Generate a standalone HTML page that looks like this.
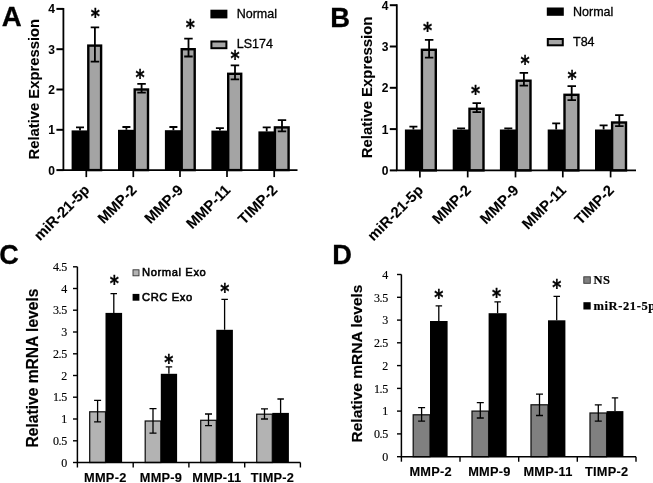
<!DOCTYPE html>
<html lang="en">
<head>
<meta charset="utf-8">
<title>Figure</title>
<style>
html,body{margin:0;padding:0;background:#fff;}
body{width:653px;height:483px;overflow:hidden;}
svg{display:block;filter:blur(0.45px);}
text{fill:#000;stroke:#000;stroke-width:0.3px;}
</style>
</head>
<body>
<svg width="653" height="483" viewBox="0 0 653 483">
<rect width="653" height="483" fill="#fff"/>
<text x="1.8" y="26.2" font-family='"Liberation Sans", Arial, Helvetica, sans-serif' font-size="27.6" font-weight="bold">A</text>
<text transform="translate(39.4,89.2) rotate(-90)" font-family='"Liberation Sans", Arial, Helvetica, sans-serif' font-size="14.8" font-weight="bold" text-anchor="middle" style="stroke-width:0.1px">Relative Expression</text>
<path d="M80.0 127.4V130.4M76.0 127.4H84.0" stroke="#000" stroke-width="1.8" fill="none"/>
<rect x="71.6" y="130.4" width="16.8" height="39.7" fill="#000"/>
<rect x="88.3" y="45.6" width="12.8" height="124.5" fill="#a4a4a4" stroke="#000" stroke-width="2.4"/>
<path d="M94.9 27.4V61.7M90.7 27.4H99.2M90.7 61.7H99.2" stroke="#000" stroke-width="1.8" fill="none"/>
<path d="M86.3 170.1V177.1" stroke="#000" stroke-width="1.7"/>
<text transform="translate(90.5,190.9) rotate(-45)" font-family='"Liberation Sans", Arial, Helvetica, sans-serif' font-size="14.8" font-weight="bold" text-anchor="end" style="stroke-width:0.1px">miR-21-5p</text>
<text transform="translate(95.2,12.7) scale(0.92,1.12)" x="0" y="10.07" font-family='"DejaVu Sans", "Liberation Sans", sans-serif' font-size="19" font-weight="bold" text-anchor="middle">*</text>
<path d="M126.4 127.0V129.8M122.4 127.0H130.4" stroke="#000" stroke-width="1.8" fill="none"/>
<rect x="118.0" y="129.8" width="16.8" height="40.3" fill="#000"/>
<rect x="134.7" y="89.5" width="13.3" height="80.6" fill="#a4a4a4" stroke="#000" stroke-width="2.4"/>
<path d="M141.6 83.9V92.7M137.3 83.9H145.8M137.3 92.7H145.8" stroke="#000" stroke-width="1.8" fill="none"/>
<path d="M133.3 170.1V177.1" stroke="#000" stroke-width="1.7"/>
<text transform="translate(137.5,190.9) rotate(-45)" font-family='"Liberation Sans", Arial, Helvetica, sans-serif' font-size="14.8" font-weight="bold" text-anchor="end" style="stroke-width:0.1px">MMP-2</text>
<text transform="translate(140.0,74.0) scale(0.92,1.12)" x="0" y="10.07" font-family='"DejaVu Sans", "Liberation Sans", sans-serif' font-size="19" font-weight="bold" text-anchor="middle">*</text>
<path d="M173.4 127.0V130.2M169.4 127.0H177.4" stroke="#000" stroke-width="1.8" fill="none"/>
<rect x="164.9" y="130.2" width="16.9" height="39.9" fill="#000"/>
<rect x="181.7" y="49.2" width="13.0" height="120.9" fill="#a4a4a4" stroke="#000" stroke-width="2.4"/>
<path d="M188.5 38.7V56.5M184.2 38.7H192.7M184.2 56.5H192.7" stroke="#000" stroke-width="1.8" fill="none"/>
<path d="M180.0 170.1V177.1" stroke="#000" stroke-width="1.7"/>
<text transform="translate(184.2,190.9) rotate(-45)" font-family='"Liberation Sans", Arial, Helvetica, sans-serif' font-size="14.8" font-weight="bold" text-anchor="end" style="stroke-width:0.1px">MMP-9</text>
<text transform="translate(190.2,23.5) scale(0.92,1.12)" x="0" y="10.07" font-family='"DejaVu Sans", "Liberation Sans", sans-serif' font-size="19" font-weight="bold" text-anchor="middle">*</text>
<path d="M219.9 128.2V130.6M215.9 128.2H223.9" stroke="#000" stroke-width="1.8" fill="none"/>
<rect x="211.4" y="130.6" width="16.9" height="39.5" fill="#000"/>
<rect x="228.2" y="73.8" width="13.0" height="96.3" fill="#a4a4a4" stroke="#000" stroke-width="2.4"/>
<path d="M235.0 65.3V79.4M230.7 65.3H239.2M230.7 79.4H239.2" stroke="#000" stroke-width="1.8" fill="none"/>
<path d="M227.0 170.1V177.1" stroke="#000" stroke-width="1.7"/>
<text transform="translate(231.2,190.9) rotate(-45)" font-family='"Liberation Sans", Arial, Helvetica, sans-serif' font-size="14.8" font-weight="bold" text-anchor="end" style="stroke-width:0.1px">MMP-11</text>
<text transform="translate(235.0,55.0) scale(0.92,1.12)" x="0" y="10.07" font-family='"DejaVu Sans", "Liberation Sans", sans-serif' font-size="19" font-weight="bold" text-anchor="middle">*</text>
<path d="M266.7 127.4V131.4M262.7 127.4H270.7" stroke="#000" stroke-width="1.8" fill="none"/>
<rect x="258.4" y="131.4" width="16.6" height="38.7" fill="#000"/>
<rect x="274.9" y="127.4" width="13.7" height="42.7" fill="#a4a4a4" stroke="#000" stroke-width="2.4"/>
<path d="M282.0 120.1V131.4M277.8 120.1H286.2M277.8 131.4H286.2" stroke="#000" stroke-width="1.8" fill="none"/>
<path d="M274.2 170.1V177.1" stroke="#000" stroke-width="1.7"/>
<text transform="translate(278.4,190.9) rotate(-45)" font-family='"Liberation Sans", Arial, Helvetica, sans-serif' font-size="14.8" font-weight="bold" text-anchor="end" style="stroke-width:0.1px">TIMP-2</text>
<path d="M63.4 7.9V170.1H297.5" stroke="#000" stroke-width="1.8" fill="none"/>
<path d="M56.4 170.1H63.4" stroke="#000" stroke-width="2"/>
<text x="55" y="174.6" font-family='"Liberation Sans", Arial, Helvetica, sans-serif' font-size="12" font-weight="bold" text-anchor="end" style="stroke-width:0.05px">0</text>
<path d="M56.4 129.8H63.4" stroke="#000" stroke-width="2"/>
<text x="55" y="134.3" font-family='"Liberation Sans", Arial, Helvetica, sans-serif' font-size="12" font-weight="bold" text-anchor="end" style="stroke-width:0.05px">1</text>
<path d="M56.4 89.5H63.4" stroke="#000" stroke-width="2"/>
<text x="55" y="94.0" font-family='"Liberation Sans", Arial, Helvetica, sans-serif' font-size="12" font-weight="bold" text-anchor="end" style="stroke-width:0.05px">2</text>
<path d="M56.4 49.2H63.4" stroke="#000" stroke-width="2"/>
<text x="55" y="53.7" font-family='"Liberation Sans", Arial, Helvetica, sans-serif' font-size="12" font-weight="bold" text-anchor="end" style="stroke-width:0.05px">3</text>
<path d="M56.4 8.9H63.4" stroke="#000" stroke-width="2"/>
<text x="55" y="13.4" font-family='"Liberation Sans", Arial, Helvetica, sans-serif' font-size="12" font-weight="bold" text-anchor="end" style="stroke-width:0.05px">4</text>
<rect x="210.4" y="9.7" width="17" height="8.7" fill="#000"/>
<text x="236.7" y="17.6" font-family='"Liberation Sans", Arial, Helvetica, sans-serif' font-size="12.5">Normal</text>
<rect x="211.4" y="41.5" width="15" height="6.699999999999999" fill="#a6a6a6" stroke="#000" stroke-width="2"/>
<text x="236.7" y="48.0" font-family='"Liberation Sans", Arial, Helvetica, sans-serif' font-size="12.5">LS174</text>
<text x="330.2" y="26.5" font-family='"Liberation Sans", Arial, Helvetica, sans-serif' font-size="27.4" font-weight="bold">B</text>
<text transform="translate(372.4,87.4) rotate(-90)" font-family='"Liberation Sans", Arial, Helvetica, sans-serif' font-size="14.9" font-weight="bold" text-anchor="middle" style="stroke-width:0.1px">Relative Expression</text>
<path d="M413.4 126.6V129.5M409.4 126.6H417.4" stroke="#000" stroke-width="1.8" fill="none"/>
<rect x="404.9" y="129.5" width="17.1" height="40.9" fill="#000"/>
<rect x="421.9" y="49.8" width="13.9" height="120.6" fill="#a4a4a4" stroke="#000" stroke-width="2.4"/>
<path d="M429.1 39.9V57.7M424.9 39.9H433.4M424.9 57.7H433.4" stroke="#000" stroke-width="1.8" fill="none"/>
<path d="M419.9 170.4V177.4" stroke="#000" stroke-width="1.7"/>
<text transform="translate(424.1,191.2) rotate(-45)" font-family='"Liberation Sans", Arial, Helvetica, sans-serif' font-size="14.8" font-weight="bold" text-anchor="end" style="stroke-width:0.1px">miR-21-5p</text>
<text transform="translate(427.5,27.0) scale(0.92,1.12)" x="0" y="10.07" font-family='"DejaVu Sans", "Liberation Sans", sans-serif' font-size="19" font-weight="bold" text-anchor="middle">*</text>
<path d="M461.1 128.3V129.5M457.1 128.3H465.1" stroke="#000" stroke-width="1.8" fill="none"/>
<rect x="452.7" y="129.5" width="16.9" height="40.9" fill="#000"/>
<rect x="469.5" y="108.8" width="14.0" height="61.6" fill="#a4a4a4" stroke="#000" stroke-width="2.4"/>
<path d="M476.8 103.1V112.2M472.5 103.1H481.0M472.5 112.2H481.0" stroke="#000" stroke-width="1.8" fill="none"/>
<path d="M467.7 170.4V177.4" stroke="#000" stroke-width="1.7"/>
<text transform="translate(471.9,191.2) rotate(-45)" font-family='"Liberation Sans", Arial, Helvetica, sans-serif' font-size="14.8" font-weight="bold" text-anchor="end" style="stroke-width:0.1px">MMP-2</text>
<text transform="translate(475.5,90.0) scale(0.92,1.12)" x="0" y="10.07" font-family='"DejaVu Sans", "Liberation Sans", sans-serif' font-size="19" font-weight="bold" text-anchor="middle">*</text>
<path d="M508.3 128.3V129.5M504.3 128.3H512.3" stroke="#000" stroke-width="1.8" fill="none"/>
<rect x="499.9" y="129.5" width="16.9" height="40.9" fill="#000"/>
<rect x="516.7" y="80.7" width="13.8" height="89.7" fill="#a4a4a4" stroke="#000" stroke-width="2.4"/>
<path d="M523.9 72.9V85.7M519.6 72.9H528.1M519.6 85.7H528.1" stroke="#000" stroke-width="1.8" fill="none"/>
<path d="M515.5 170.4V177.4" stroke="#000" stroke-width="1.7"/>
<text transform="translate(519.7,191.2) rotate(-45)" font-family='"Liberation Sans", Arial, Helvetica, sans-serif' font-size="14.8" font-weight="bold" text-anchor="end" style="stroke-width:0.1px">MMP-9</text>
<text transform="translate(525.0,60.0) scale(0.92,1.12)" x="0" y="10.07" font-family='"DejaVu Sans", "Liberation Sans", sans-serif' font-size="19" font-weight="bold" text-anchor="middle">*</text>
<path d="M556.2 123.3V129.5M552.2 123.3H560.2" stroke="#000" stroke-width="1.8" fill="none"/>
<rect x="547.7" y="129.5" width="16.9" height="40.9" fill="#000"/>
<rect x="564.5" y="94.8" width="13.9" height="75.6" fill="#a4a4a4" stroke="#000" stroke-width="2.4"/>
<path d="M571.7 86.1V100.2M567.5 86.1H576.0M567.5 100.2H576.0" stroke="#000" stroke-width="1.8" fill="none"/>
<path d="M562.8 170.4V177.4" stroke="#000" stroke-width="1.7"/>
<text transform="translate(567.0,191.2) rotate(-45)" font-family='"Liberation Sans", Arial, Helvetica, sans-serif' font-size="14.8" font-weight="bold" text-anchor="end" style="stroke-width:0.1px">MMP-11</text>
<text transform="translate(572.0,75.0) scale(0.92,1.12)" x="0" y="10.07" font-family='"DejaVu Sans", "Liberation Sans", sans-serif' font-size="19" font-weight="bold" text-anchor="middle">*</text>
<path d="M603.6 125.4V129.5M599.6 125.4H607.6" stroke="#000" stroke-width="1.8" fill="none"/>
<rect x="595.0" y="129.5" width="17.2" height="40.9" fill="#000"/>
<rect x="612.1" y="122.5" width="13.9" height="47.9" fill="#a4a4a4" stroke="#000" stroke-width="2.4"/>
<path d="M619.3 115.1V126.2M615.1 115.1H623.6M615.1 126.2H623.6" stroke="#000" stroke-width="1.8" fill="none"/>
<path d="M610.6 170.4V177.4" stroke="#000" stroke-width="1.7"/>
<text transform="translate(614.8,191.2) rotate(-45)" font-family='"Liberation Sans", Arial, Helvetica, sans-serif' font-size="14.8" font-weight="bold" text-anchor="end" style="stroke-width:0.1px">TIMP-2</text>
<path d="M396.8 4.2V170.4H636" stroke="#000" stroke-width="1.8" fill="none"/>
<path d="M389.8 170.4H396.8" stroke="#000" stroke-width="2"/>
<text x="388.5" y="174.9" font-family='"Liberation Sans", Arial, Helvetica, sans-serif' font-size="12" font-weight="bold" text-anchor="end" style="stroke-width:0.05px">0</text>
<path d="M389.8 129.1H396.8" stroke="#000" stroke-width="2"/>
<text x="388.5" y="133.6" font-family='"Liberation Sans", Arial, Helvetica, sans-serif' font-size="12" font-weight="bold" text-anchor="end" style="stroke-width:0.05px">1</text>
<path d="M389.8 87.8H396.8" stroke="#000" stroke-width="2"/>
<text x="388.5" y="92.3" font-family='"Liberation Sans", Arial, Helvetica, sans-serif' font-size="12" font-weight="bold" text-anchor="end" style="stroke-width:0.05px">2</text>
<path d="M389.8 46.5H396.8" stroke="#000" stroke-width="2"/>
<text x="388.5" y="51.0" font-family='"Liberation Sans", Arial, Helvetica, sans-serif' font-size="12" font-weight="bold" text-anchor="end" style="stroke-width:0.05px">3</text>
<path d="M389.8 5.2H396.8" stroke="#000" stroke-width="2"/>
<text x="388.5" y="9.7" font-family='"Liberation Sans", Arial, Helvetica, sans-serif' font-size="12" font-weight="bold" text-anchor="end" style="stroke-width:0.05px">4</text>
<rect x="546.8" y="7.5" width="17" height="8.3" fill="#000"/>
<text x="573" y="15.9" font-family='"Liberation Sans", Arial, Helvetica, sans-serif' font-size="12.5">Normal</text>
<rect x="547.8" y="39" width="15" height="6.300000000000001" fill="#a6a6a6" stroke="#000" stroke-width="2"/>
<text x="573" y="46.0" font-family='"Liberation Sans", Arial, Helvetica, sans-serif' font-size="12.5">T84</text>
<text x="-0.7" y="264.2" font-family='"Liberation Sans", Arial, Helvetica, sans-serif' font-size="27" font-weight="bold">C</text>
<text transform="translate(38.4,368) rotate(-90)" font-family='"Liberation Sans", Arial, Helvetica, sans-serif' font-size="15.6" font-weight="bold" text-anchor="middle" style="stroke-width:0.15px">Relative mRNA levels</text>
<rect x="89.7" y="411.8" width="15.8" height="50.7" fill="#b3b3b3" stroke="#111" stroke-width="1.25"/>
<path d="M97.6 400.3V421.8M94.1 400.3H101.1M94.1 421.8H101.1" stroke="#000" stroke-width="1.3" fill="none"/>
<rect x="105.5" y="312.9" width="16.6" height="149.6" fill="#000"/>
<path d="M113.8 293.7V312.9M110.5 293.7H117.0" stroke="#000" stroke-width="1.3" fill="none"/>
<text transform="translate(114.3,280.2) scale(0.92,1.12)" x="0" y="10.07" font-family='"DejaVu Sans", "Liberation Sans", sans-serif' font-size="19" font-weight="bold" text-anchor="middle">*</text>
<rect x="145.2" y="421.0" width="15.6" height="41.5" fill="#b3b3b3" stroke="#111" stroke-width="1.25"/>
<path d="M153.0 408.6V433.1M149.5 408.6H156.5M149.5 433.1H156.5" stroke="#000" stroke-width="1.3" fill="none"/>
<rect x="160.8" y="373.8" width="16.3" height="88.7" fill="#000"/>
<path d="M168.9 366.8V373.8M165.7 366.8H172.2" stroke="#000" stroke-width="1.3" fill="none"/>
<text transform="translate(168.8,358.8) scale(0.92,1.12)" x="0" y="10.07" font-family='"DejaVu Sans", "Liberation Sans", sans-serif' font-size="19" font-weight="bold" text-anchor="middle">*</text>
<rect x="200.7" y="420.3" width="15.6" height="42.2" fill="#b3b3b3" stroke="#111" stroke-width="1.25"/>
<path d="M208.5 414.0V425.7M205.0 414.0H212.0M205.0 425.7H212.0" stroke="#000" stroke-width="1.3" fill="none"/>
<rect x="216.3" y="329.8" width="16.6" height="132.7" fill="#000"/>
<path d="M224.6 299.4V329.8M221.4 299.4H227.9" stroke="#000" stroke-width="1.3" fill="none"/>
<text transform="translate(224.8,288.0) scale(0.92,1.12)" x="0" y="10.07" font-family='"DejaVu Sans", "Liberation Sans", sans-serif' font-size="19" font-weight="bold" text-anchor="middle">*</text>
<rect x="256.7" y="414.2" width="15.6" height="48.3" fill="#b3b3b3" stroke="#111" stroke-width="1.25"/>
<path d="M264.5 408.8V419.0M261.0 408.8H268.0M261.0 419.0H268.0" stroke="#000" stroke-width="1.3" fill="none"/>
<rect x="272.3" y="412.9" width="16.6" height="49.6" fill="#000"/>
<path d="M280.6 399.0V412.9M277.4 399.0H283.9" stroke="#000" stroke-width="1.3" fill="none"/>
<path d="M77.4 266.8V462.5H300.4" stroke="#000" stroke-width="1.5" fill="none"/>
<path d="M73.0 462.5H77.4" stroke="#000" stroke-width="1.4"/>
<text x="67" y="466.7" font-family='"Liberation Serif", "Times New Roman", Times, serif' font-size="12" letter-spacing="-0.3" text-anchor="end" style="stroke-width:0.15px">0</text>
<path d="M73.0 440.8H77.4" stroke="#000" stroke-width="1.4"/>
<text x="67" y="444.9" font-family='"Liberation Serif", "Times New Roman", Times, serif' font-size="12" letter-spacing="-0.3" text-anchor="end" style="stroke-width:0.15px">0.5</text>
<path d="M73.0 419.0H77.4" stroke="#000" stroke-width="1.4"/>
<text x="67" y="423.2" font-family='"Liberation Serif", "Times New Roman", Times, serif' font-size="12" letter-spacing="-0.3" text-anchor="end" style="stroke-width:0.15px">1</text>
<path d="M73.0 397.2H77.4" stroke="#000" stroke-width="1.4"/>
<text x="67" y="401.4" font-family='"Liberation Serif", "Times New Roman", Times, serif' font-size="12" letter-spacing="-0.3" text-anchor="end" style="stroke-width:0.15px">1.5</text>
<path d="M73.0 375.5H77.4" stroke="#000" stroke-width="1.4"/>
<text x="67" y="379.7" font-family='"Liberation Serif", "Times New Roman", Times, serif' font-size="12" letter-spacing="-0.3" text-anchor="end" style="stroke-width:0.15px">2</text>
<path d="M73.0 353.8H77.4" stroke="#000" stroke-width="1.4"/>
<text x="67" y="357.9" font-family='"Liberation Serif", "Times New Roman", Times, serif' font-size="12" letter-spacing="-0.3" text-anchor="end" style="stroke-width:0.15px">2.5</text>
<path d="M73.0 332.0H77.4" stroke="#000" stroke-width="1.4"/>
<text x="67" y="336.2" font-family='"Liberation Serif", "Times New Roman", Times, serif' font-size="12" letter-spacing="-0.3" text-anchor="end" style="stroke-width:0.15px">3</text>
<path d="M73.0 310.2H77.4" stroke="#000" stroke-width="1.4"/>
<text x="67" y="314.4" font-family='"Liberation Serif", "Times New Roman", Times, serif' font-size="12" letter-spacing="-0.3" text-anchor="end" style="stroke-width:0.15px">3.5</text>
<path d="M73.0 288.5H77.4" stroke="#000" stroke-width="1.4"/>
<text x="67" y="292.7" font-family='"Liberation Serif", "Times New Roman", Times, serif' font-size="12" letter-spacing="-0.3" text-anchor="end" style="stroke-width:0.15px">4</text>
<path d="M73.0 266.8H77.4" stroke="#000" stroke-width="1.4"/>
<text x="67" y="270.9" font-family='"Liberation Serif", "Times New Roman", Times, serif' font-size="12" letter-spacing="-0.3" text-anchor="end" style="stroke-width:0.15px">4.5</text>
<path d="M77.4 462.5V467.5" stroke="#000" stroke-width="1.4"/>
<path d="M133.2 462.5V467.5" stroke="#000" stroke-width="1.4"/>
<path d="M188.9 462.5V467.5" stroke="#000" stroke-width="1.4"/>
<path d="M244.7 462.5V467.5" stroke="#000" stroke-width="1.4"/>
<path d="M300.4 462.5V467.5" stroke="#000" stroke-width="1.4"/>
<text x="105.3" y="481.7" font-family='"Liberation Sans", Arial, Helvetica, sans-serif' font-size="12.8" font-weight="bold" text-anchor="middle" letter-spacing="0.25" style="stroke-width:0.12px">MMP-2</text>
<text x="161.0" y="481.7" font-family='"Liberation Sans", Arial, Helvetica, sans-serif' font-size="12.8" font-weight="bold" text-anchor="middle" letter-spacing="0.25" style="stroke-width:0.12px">MMP-9</text>
<text x="216.8" y="481.7" font-family='"Liberation Sans", Arial, Helvetica, sans-serif' font-size="12.8" font-weight="bold" text-anchor="middle" letter-spacing="0.25" style="stroke-width:0.12px">MMP-11</text>
<text x="272.5" y="481.7" font-family='"Liberation Sans", Arial, Helvetica, sans-serif' font-size="12.8" font-weight="bold" text-anchor="middle" letter-spacing="0.25" style="stroke-width:0.12px">TIMP-2</text>
<rect x="133" y="269.8" width="6" height="6" fill="#b3b3b3" stroke="#333" stroke-width="0.9"/>
<text x="142" y="275.7" font-family='"Liberation Sans", Arial, Helvetica, sans-serif' font-size="11.2" font-weight="normal" letter-spacing="0.6" style="stroke-width:0.55px">Normal Exo</text>
<rect x="132.6" y="293.9" width="6.8" height="6.8" fill="#000"/>
<text x="142" y="300.6" font-family='"Liberation Sans", Arial, Helvetica, sans-serif' font-size="11.2" font-weight="normal" letter-spacing="0.6" style="stroke-width:0.55px">CRC Exo</text>
<text x="332.3" y="264.2" font-family='"Liberation Sans", Arial, Helvetica, sans-serif' font-size="27.2" font-weight="bold">D</text>
<text transform="translate(362.2,363.5) rotate(-90)" font-family='"Liberation Sans", Arial, Helvetica, sans-serif' font-size="15.5" font-weight="bold" text-anchor="middle" style="stroke-width:0.15px">Relative mRNA levels</text>
<rect x="413.2" y="414.8" width="16.8" height="41.9" fill="#808080" stroke="#111" stroke-width="1.25"/>
<path d="M421.6 407.7V421.2M418.1 407.7H425.1M418.1 421.2H425.1" stroke="#000" stroke-width="1.3" fill="none"/>
<rect x="430.0" y="321.0" width="17.6" height="135.7" fill="#000"/>
<path d="M438.8 305.9V321.0M435.6 305.9H442.1" stroke="#000" stroke-width="1.3" fill="none"/>
<text transform="translate(438.8,294.0) scale(0.92,1.12)" x="0" y="10.07" font-family='"DejaVu Sans", "Liberation Sans", sans-serif' font-size="19" font-weight="bold" text-anchor="middle">*</text>
<rect x="472.0" y="411.1" width="16.6" height="45.6" fill="#808080" stroke="#111" stroke-width="1.25"/>
<path d="M480.3 402.7V418.0M476.8 402.7H483.8M476.8 418.0H483.8" stroke="#000" stroke-width="1.3" fill="none"/>
<rect x="488.6" y="313.2" width="18.0" height="143.5" fill="#000"/>
<path d="M497.6 301.8V313.2M494.4 301.8H500.9" stroke="#000" stroke-width="1.3" fill="none"/>
<text transform="translate(496.5,292.3) scale(0.92,1.12)" x="0" y="10.07" font-family='"DejaVu Sans", "Liberation Sans", sans-serif' font-size="19" font-weight="bold" text-anchor="middle">*</text>
<rect x="531.0" y="404.8" width="17.0" height="51.9" fill="#808080" stroke="#111" stroke-width="1.25"/>
<path d="M539.5 394.1V415.5M536.0 394.1H543.0M536.0 415.5H543.0" stroke="#000" stroke-width="1.3" fill="none"/>
<rect x="548.0" y="320.3" width="17.4" height="136.4" fill="#000"/>
<path d="M556.7 296.4V320.3M553.5 296.4H560.0" stroke="#000" stroke-width="1.3" fill="none"/>
<text transform="translate(556.8,283.4) scale(0.92,1.12)" x="0" y="10.07" font-family='"DejaVu Sans", "Liberation Sans", sans-serif' font-size="19" font-weight="bold" text-anchor="middle">*</text>
<rect x="590.0" y="413.0" width="16.6" height="43.7" fill="#808080" stroke="#111" stroke-width="1.25"/>
<path d="M598.3 404.8V421.2M594.8 404.8H601.8M594.8 421.2H601.8" stroke="#000" stroke-width="1.3" fill="none"/>
<rect x="606.6" y="411.1" width="16.8" height="45.6" fill="#000"/>
<path d="M615.0 397.9V411.1M611.8 397.9H618.2" stroke="#000" stroke-width="1.3" fill="none"/>
<path d="M401.4 274.5V456.7H636.0" stroke="#000" stroke-width="1.5" fill="none"/>
<path d="M397.0 456.7H401.4" stroke="#000" stroke-width="1.4"/>
<text x="388" y="460.9" font-family='"Liberation Serif", "Times New Roman", Times, serif' font-size="12" letter-spacing="-0.3" text-anchor="end" style="stroke-width:0.15px">0</text>
<path d="M397.0 433.9H401.4" stroke="#000" stroke-width="1.4"/>
<text x="388" y="438.1" font-family='"Liberation Serif", "Times New Roman", Times, serif' font-size="12" letter-spacing="-0.3" text-anchor="end" style="stroke-width:0.15px">0.5</text>
<path d="M397.0 411.1H401.4" stroke="#000" stroke-width="1.4"/>
<text x="388" y="415.3" font-family='"Liberation Serif", "Times New Roman", Times, serif' font-size="12" letter-spacing="-0.3" text-anchor="end" style="stroke-width:0.15px">1</text>
<path d="M397.0 388.4H401.4" stroke="#000" stroke-width="1.4"/>
<text x="388" y="392.6" font-family='"Liberation Serif", "Times New Roman", Times, serif' font-size="12" letter-spacing="-0.3" text-anchor="end" style="stroke-width:0.15px">1.5</text>
<path d="M397.0 365.6H401.4" stroke="#000" stroke-width="1.4"/>
<text x="388" y="369.8" font-family='"Liberation Serif", "Times New Roman", Times, serif' font-size="12" letter-spacing="-0.3" text-anchor="end" style="stroke-width:0.15px">2</text>
<path d="M397.0 342.8H401.4" stroke="#000" stroke-width="1.4"/>
<text x="388" y="347.0" font-family='"Liberation Serif", "Times New Roman", Times, serif' font-size="12" letter-spacing="-0.3" text-anchor="end" style="stroke-width:0.15px">2.5</text>
<path d="M397.0 320.1H401.4" stroke="#000" stroke-width="1.4"/>
<text x="388" y="324.2" font-family='"Liberation Serif", "Times New Roman", Times, serif' font-size="12" letter-spacing="-0.3" text-anchor="end" style="stroke-width:0.15px">3</text>
<path d="M397.0 297.3H401.4" stroke="#000" stroke-width="1.4"/>
<text x="388" y="301.5" font-family='"Liberation Serif", "Times New Roman", Times, serif' font-size="12" letter-spacing="-0.3" text-anchor="end" style="stroke-width:0.15px">3.5</text>
<path d="M397.0 274.5H401.4" stroke="#000" stroke-width="1.4"/>
<text x="388" y="278.7" font-family='"Liberation Serif", "Times New Roman", Times, serif' font-size="12" letter-spacing="-0.3" text-anchor="end" style="stroke-width:0.15px">4</text>
<path d="M401.4 456.7V461.7" stroke="#000" stroke-width="1.4"/>
<path d="M460.0 456.7V461.7" stroke="#000" stroke-width="1.4"/>
<path d="M518.7 456.7V461.7" stroke="#000" stroke-width="1.4"/>
<path d="M577.3 456.7V461.7" stroke="#000" stroke-width="1.4"/>
<path d="M636.0 456.7V461.7" stroke="#000" stroke-width="1.4"/>
<text x="430.7" y="476.2" font-family='"Liberation Sans", Arial, Helvetica, sans-serif' font-size="12.8" font-weight="bold" text-anchor="middle" letter-spacing="0.25" style="stroke-width:0.12px">MMP-2</text>
<text x="489.4" y="476.2" font-family='"Liberation Sans", Arial, Helvetica, sans-serif' font-size="12.8" font-weight="bold" text-anchor="middle" letter-spacing="0.25" style="stroke-width:0.12px">MMP-9</text>
<text x="548.0" y="476.2" font-family='"Liberation Sans", Arial, Helvetica, sans-serif' font-size="12.8" font-weight="bold" text-anchor="middle" letter-spacing="0.25" style="stroke-width:0.12px">MMP-11</text>
<text x="606.7" y="476.2" font-family='"Liberation Sans", Arial, Helvetica, sans-serif' font-size="12.8" font-weight="bold" text-anchor="middle" letter-spacing="0.25" style="stroke-width:0.12px">TIMP-2</text>
<rect x="583.8" y="276.8" width="6.5" height="6.5" fill="#808080" stroke="#333" stroke-width="0.9"/>
<text x="593.4" y="284.2" font-family='"Liberation Serif", "Times New Roman", Times, serif' font-size="12.5" font-weight="bold" letter-spacing="0.62" style="stroke-width:0.2px">NS</text>
<rect x="583.4" y="302.2" width="7.3" height="7.3" fill="#000"/>
<text x="593.4" y="309.5" font-family='"Liberation Serif", "Times New Roman", Times, serif' font-size="12.5" font-weight="bold" letter-spacing="0.62" style="stroke-width:0.2px">miR-21-5p</text>
</svg>
</body>
</html>
